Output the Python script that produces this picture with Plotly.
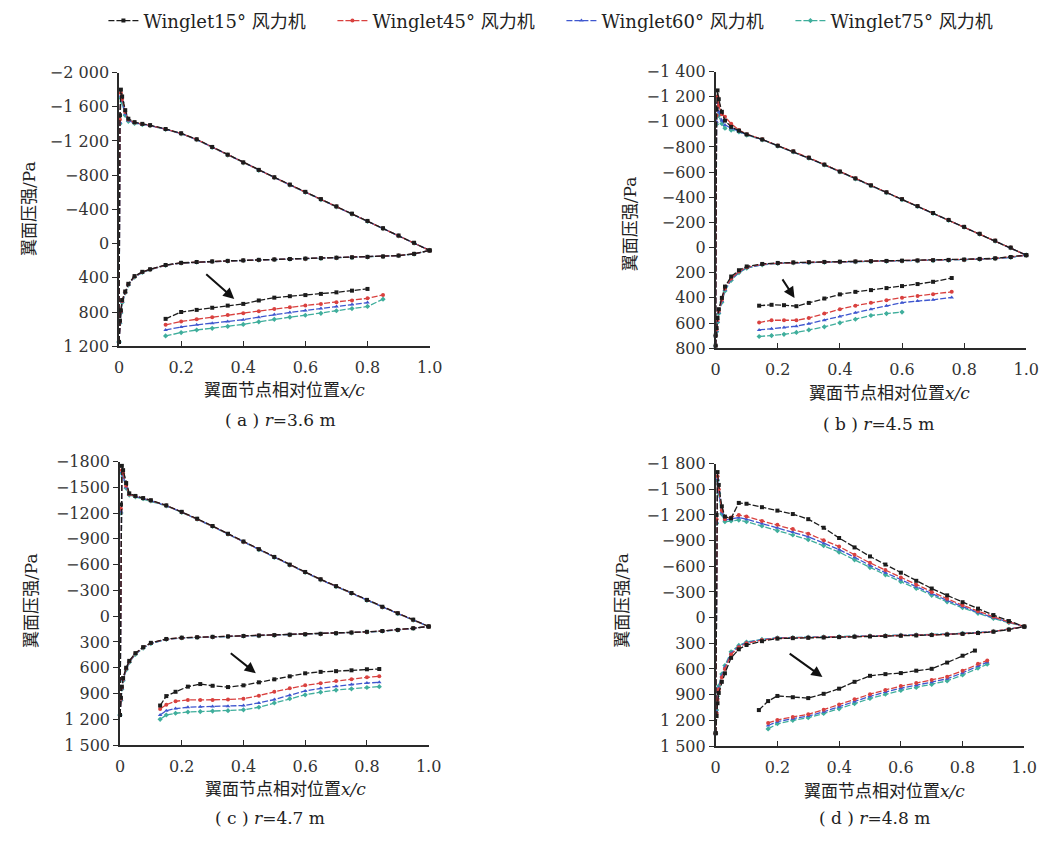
import plotly.graph_objects as go

# ---------------- data ----------------
SERIES = ["Winglet15° 风力机", "Winglet45° 风力机", "Winglet60° 风力机", "Winglet75° 风力机"]

X_MAIN = [0, 0.003, 0.006, 0.01, 0.02, 0.03, 0.05, 0.075, 0.1, 0.15, 0.2, 0.25, 0.3, 0.35,
          0.4, 0.45, 0.5, 0.55, 0.6, 0.65, 0.7, 0.75, 0.8, 0.85, 0.9, 0.95, 1.0]

# (a) r = 3.6 m
A_SUC_15 = [1150, -1500, -1800, -1720, -1560, -1460, -1420, -1400, -1385, -1340, -1290, -1220, -1130, -1040, -950, -862, -776, -690, -605, -520, -435, -350, -265, -180, -95, -10, 80]
A_SUC_45 = [1150, -1450, -1760, -1690, -1540, -1450, -1415, -1398, -1382, -1338, -1288, -1218, -1128, -1038, -948, -860, -774, -688, -603, -518, -433, -348, -263, -178, -93, -8, 80]
A_SUC_60 = [1150, -1420, -1730, -1670, -1520, -1440, -1410, -1395, -1380, -1336, -1286, -1216, -1126, -1036, -946, -858, -772, -686, -601, -516, -431, -346, -261, -176, -91, -6, 80]
A_SUC_75 = [1150, -1400, -1700, -1650, -1500, -1430, -1405, -1392, -1378, -1334, -1284, -1214, -1124, -1034, -944, -856, -770, -684, -599, -514, -429, -344, -259, -174, -89, -4, 80]
A_PRE_15 = [1150, 900, 780, 660, 560, 470, 380, 330, 300, 250, 225, 215, 208, 202, 196, 190, 185, 180, 175, 170, 165, 160, 155, 150, 140, 120, 80]
A_PRE_45 = [1150, 910, 790, 670, 565, 475, 385, 333, 302, 252, 226, 216, 209, 203, 197, 191, 186, 181, 176, 171, 166, 161, 156, 150, 140, 120, 80]
A_PRE_60 = [1150, 920, 800, 680, 570, 480, 388, 336, 304, 253, 227, 217, 210, 204, 198, 192, 187, 182, 177, 172, 167, 162, 157, 151, 141, 121, 80]
A_PRE_75 = [1150, 930, 810, 690, 575, 485, 392, 338, 306, 255, 228, 218, 211, 205, 199, 193, 188, 183, 178, 173, 168, 163, 158, 152, 142, 122, 80]
IX_A = [0.15, 0.2, 0.25, 0.3, 0.35, 0.4, 0.45, 0.5, 0.55, 0.6, 0.65, 0.7, 0.75, 0.8, 0.85]
A_IN_15 = [880, 800, 775, 750, 725, 705, 665, 632, 615, 602, 588, 570, 550, 530]
A_IN_45 = [950, 910, 885, 860, 835, 815, 790, 765, 745, 725, 705, 685, 665, 640, 600]
A_IN_60 = [1010, 975, 950, 930, 910, 890, 860, 830, 805, 782, 760, 735, 712, 690]
A_IN_75 = [1080, 1040, 1010, 990, 968, 945, 915, 885, 860, 838, 815, 785, 760, 735, 650]

# (b) r = 4.5 m
B_SUC_15 = [700, -1100, -1250, -1180, -1080, -1010, -960, -930, -900, -860, -810, -765, -715, -660, -605, -550, -495, -440, -385, -330, -275, -220, -165, -110, -55, 0, 60]
B_SUC_45 = [700, -1050, -1200, -1130, -1060, -1040, -985, -935, -902, -861, -811, -766, -716, -661, -606, -551, -496, -441, -386, -331, -276, -221, -166, -111, -56, 0, 60]
B_SUC_60 = [700, -1000, -1150, -1080, -1010, -975, -950, -926, -898, -859, -809, -764, -714, -659, -604, -549, -494, -439, -384, -329, -274, -219, -164, -109, -54, 0, 60]
B_SUC_75 = [700, -980, -1120, -1050, -985, -950, -935, -920, -895, -857, -807, -762, -712, -657, -602, -547, -492, -437, -382, -327, -272, -217, -162, -107, -52, 2, 60]
B_PRE_15 = [780, 640, 560, 490, 400, 310, 230, 180, 150, 130, 122, 118, 116, 114, 112, 110, 108, 106, 104, 102, 100, 98, 95, 90, 85, 75, 60]
B_PRE_45 = [780, 650, 575, 505, 415, 325, 245, 190, 156, 133, 124, 119, 117, 115, 113, 111, 109, 107, 105, 103, 101, 99, 96, 91, 86, 76, 60]
B_PRE_60 = [780, 660, 585, 515, 425, 335, 252, 195, 160, 135, 125, 120, 118, 116, 114, 112, 110, 108, 106, 104, 102, 100, 97, 92, 87, 77, 60]
B_PRE_75 = [780, 670, 595, 525, 435, 345, 260, 200, 164, 137, 126, 121, 119, 117, 115, 113, 111, 109, 107, 105, 103, 101, 98, 93, 88, 78, 60]
IX_B = [0.14, 0.18, 0.22, 0.26, 0.3, 0.35, 0.4, 0.45, 0.5, 0.55, 0.6, 0.65, 0.7, 0.76]
B_IN_15 = [462, 455, 458, 466, 440, 405, 372, 352, 338, 322, 306, 290, 272, 242]
B_IN_45 = [596, 578, 578, 578, 560, 525, 490, 462, 438, 418, 398, 385, 372, 352]
B_IN_60 = [655, 645, 635, 625, 605, 578, 548, 518, 490, 462, 438, 425, 415, 396]
B_IN_75 = [707, 700, 690, 675, 655, 630, 598, 570, 540, 525, 513]

# (c) r = 4.7 m
C_SUC_15 = [1150, -1300, -1750, -1700, -1550, -1430, -1400, -1375, -1350, -1290, -1215, -1135, -1050, -960, -870, -780, -690, -600, -515, -430, -350, -270, -190, -110, -35, 40, 120]
C_SUC_45 = [1150, -1250, -1700, -1660, -1520, -1420, -1395, -1372, -1348, -1288, -1213, -1133, -1048, -958, -868, -778, -688, -598, -513, -428, -348, -268, -188, -108, -33, 42, 120]
C_SUC_60 = [1150, -1220, -1680, -1640, -1505, -1415, -1392, -1370, -1345, -1286, -1211, -1131, -1046, -956, -866, -776, -686, -596, -511, -426, -346, -266, -186, -106, -31, 44, 120]
C_SUC_75 = [1150, -1200, -1660, -1620, -1490, -1410, -1390, -1368, -1342, -1284, -1209, -1129, -1044, -954, -864, -774, -684, -594, -509, -424, -344, -264, -184, -104, -29, 46, 120]
C_PRE_15 = [1150, 950, 820, 720, 600, 520, 430, 360, 310, 265, 250, 245, 240, 235, 230, 225, 220, 215, 210, 205, 198, 190, 182, 172, 160, 140, 120]
C_PRE_45 = [1150, 960, 830, 730, 608, 526, 435, 364, 313, 267, 251, 246, 241, 236, 231, 226, 221, 216, 211, 206, 199, 191, 183, 173, 161, 141, 120]
C_PRE_60 = [1150, 970, 840, 740, 616, 532, 440, 368, 316, 269, 252, 247, 242, 237, 232, 227, 222, 217, 212, 207, 200, 192, 184, 174, 162, 142, 120]
C_PRE_75 = [1150, 980, 850, 750, 624, 538, 445, 372, 319, 271, 253, 248, 243, 238, 233, 228, 223, 218, 213, 208, 201, 193, 185, 175, 163, 143, 120]
IX_C = [0.13, 0.15, 0.18, 0.22, 0.26, 0.3, 0.35, 0.4, 0.45, 0.5, 0.55, 0.6, 0.65, 0.7, 0.75, 0.8, 0.84]
C_IN_15 = [1040, 930, 880, 820, 790, 810, 825, 805, 770, 735, 700, 665, 648, 640, 630, 618, 615]
C_IN_45 = [1080, 1030, 990, 975, 975, 975, 970, 960, 925, 880, 840, 805, 780, 755, 735, 712, 700]
C_IN_60 = [1150, 1100, 1075, 1060, 1055, 1052, 1048, 1040, 1010, 970, 920, 870, 840, 815, 795, 778, 770]
C_IN_75 = [1200, 1150, 1130, 1115, 1110, 1105, 1100, 1090, 1060, 1010, 960, 915, 885, 860, 845, 830, 820]

# (d) r = 4.8 m
D_SUC_15 = [1350, -1200, -1700, -1550, -1300, -1180, -1160, -1340, -1330, -1290, -1250, -1210, -1150, -1050, -930, -820, -715, -620, -525, -430, -340, -260, -180, -105, -30, 40, 105]
D_SUC_45 = [1350, -1150, -1650, -1500, -1250, -1150, -1170, -1200, -1180, -1130, -1085, -1035, -980, -905, -830, -735, -640, -555, -470, -385, -300, -220, -145, -75, -10, 50, 105]
D_SUC_60 = [1350, -1120, -1620, -1470, -1230, -1140, -1150, -1170, -1150, -1100, -1050, -1000, -945, -870, -795, -705, -610, -525, -445, -360, -280, -200, -130, -60, 0, 55, 105]
D_SUC_75 = [1350, -1100, -1600, -1450, -1210, -1120, -1130, -1140, -1120, -1070, -1015, -965, -910, -840, -765, -675, -585, -500, -420, -340, -260, -185, -115, -50, 10, 60, 105]
D_PRE_15 = [1350, 1150, 1000, 880, 750, 650, 470, 370, 320, 275, 245, 240, 236, 232, 228, 224, 220, 216, 212, 208, 204, 198, 190, 180, 165, 140, 105]
D_PRE_45 = [1350, 1120, 960, 840, 700, 600, 430, 345, 300, 262, 240, 236, 233, 229, 225, 221, 217, 213, 209, 205, 201, 195, 188, 178, 163, 138, 105]
D_PRE_60 = [1350, 1100, 940, 820, 680, 580, 415, 335, 292, 258, 238, 234, 231, 227, 223, 219, 215, 211, 207, 203, 199, 193, 186, 176, 162, 137, 105]
D_PRE_75 = [1350, 1080, 920, 800, 660, 560, 400, 325, 285, 255, 236, 232, 229, 225, 221, 217, 213, 209, 205, 201, 197, 191, 184, 174, 161, 136, 105]
IX_D15 = [0.14, 0.17, 0.2, 0.25, 0.3, 0.35, 0.4, 0.45, 0.5, 0.55, 0.6, 0.65, 0.7, 0.75, 0.8, 0.84]
D_IN_15 = [1080, 975, 915, 930, 940, 890, 830, 750, 680, 660, 648, 620, 598, 525, 445, 385]
IX_D = [0.17, 0.2, 0.25, 0.3, 0.35, 0.4, 0.45, 0.5, 0.55, 0.6, 0.65, 0.7, 0.75, 0.8, 0.85, 0.88]
D_IN_45 = [1230, 1195, 1160, 1130, 1075, 1015, 955, 895, 845, 800, 765, 730, 690, 620, 540, 500]
D_IN_60 = [1260, 1215, 1180, 1150, 1100, 1040, 980, 920, 870, 825, 790, 755, 715, 645, 565, 520]
D_IN_75 = [1300, 1240, 1200, 1170, 1120, 1065, 1005, 945, 895, 850, 815, 780, 740, 670, 590, 545]

# axis ticks
X_TICKS = [0, 0.2, 0.4, 0.6, 0.8, 1.0]
X_TICKTEXT = ["0", "0.2", "0.4", "0.6", "0.8", "1.0"]
A_YTICKS = [-2000, -1600, -1200, -800, -400, 0, 400, 800, 1200]
A_YTEXT = ["−2 000", "−1 600", "−1 200", "−800", "−400", "0", "400", "800", "1 200"]
B_YTICKS = [-1400, -1200, -1000, -800, -600, -400, -200, 0, 200, 400, 600, 800]
B_YTEXT = ["−1 400", "−1 200", "−1 000", "−800", "−600", "−400", "−200", "0", "200", "400", "600", "800"]
C_YTICKS = [-1800, -1500, -1200, -900, -600, -300, 0, 300, 600, 900, 1200, 1500]
C_YTEXT = ["−1800", "−1500", "−1200", "−900", "−600", "−300", "0", "300", "600", "900", "1 200", "1 500"]
D_YTICKS = [-1800, -1500, -1200, -900, -600, -300, 0, 300, 600, 900, 1200, 1500]
D_YTEXT = ["−1 800", "−1 500", "−1 200", "−900", "−600", "−300", "0", "300", "600", "900", "1 200", "1 500"]

# arrows (tail x, tail y, head x, head y) in data units
ARROW_A = [0.276, 343, 0.371, 648]
ARROW_B = [0.212, 241, 0.254, 400]
ARROW_C = [0.354, 418, 0.44, 663]
ARROW_D = [0.235, 408, 0.346, 694]

CAPTIONS = ["( a ) <i>r</i>=3.6 m", "( b ) <i>r</i>=4.5 m", "( c ) <i>r</i>=4.7 m", "( d ) <i>r</i>=4.8 m"]
XTITLE = "翼面节点相对位置<i>x/c</i>"
YTITLE = "翼面压强/Pa"

# ---------------- styling ----------------
COLORS = ["#1c1c1c", "#d9413f", "#3f57cf", "#3fae9c"]
SYMBOLS = ["square", "circle", "triangle-up", "diamond"]
FONT = "DejaVu Serif, Noto Sans CJK SC"
AX = "#2a2a2a"

panels = [
    dict(suc=[A_SUC_15, A_SUC_45, A_SUC_60, A_SUC_75], pre=[A_PRE_15, A_PRE_45, A_PRE_60, A_PRE_75],
         ix=[IX_A, IX_A, IX_A, IX_A], ins=[A_IN_15, A_IN_45, A_IN_60, A_IN_75],
         yr=[1200, -2000], yt=A_YTICKS, ytt=A_YTEXT, arrow=ARROW_A,
         xd=[116 / 1054, 432 / 1054], yd=[1 - 345 / 844, 1 - 65 / 844]),
    dict(suc=[B_SUC_15, B_SUC_45, B_SUC_60, B_SUC_75], pre=[B_PRE_15, B_PRE_45, B_PRE_60, B_PRE_75],
         ix=[IX_B, IX_B, IX_B, IX_B], ins=[B_IN_15, B_IN_45, B_IN_60, B_IN_75],
         yr=[800, -1400], yt=B_YTICKS, ytt=B_YTEXT, arrow=ARROW_B,
         xd=[723 / 1054, 1039 / 1054], yd=[1 - 347 / 844, 1 - 64 / 844]),
    dict(suc=[C_SUC_15, C_SUC_45, C_SUC_60, C_SUC_75], pre=[C_PRE_15, C_PRE_45, C_PRE_60, C_PRE_75],
         ix=[IX_C, IX_C, IX_C, IX_C], ins=[C_IN_15, C_IN_45, C_IN_60, C_IN_75],
         yr=[1500, -1800], yt=C_YTICKS, ytt=C_YTEXT, arrow=ARROW_C,
         xd=[117 / 1054, 431 / 1054], yd=[1 - 753 / 844, 1 - 463 / 844]),
    dict(suc=[D_SUC_15, D_SUC_45, D_SUC_60, D_SUC_75], pre=[D_PRE_15, D_PRE_45, D_PRE_60, D_PRE_75],
         ix=[IX_D15, IX_D, IX_D, IX_D], ins=[D_IN_15, D_IN_45, D_IN_60, D_IN_75],
         yr=[1500, -1800], yt=D_YTICKS, ytt=D_YTEXT, arrow=ARROW_D,
         xd=[723 / 1054, 1037 / 1054], yd=[1 - 754 / 844, 1 - 465 / 844]),
]

fig = go.Figure()
layout = {}
annotations = []

for p_i, p in enumerate(panels):
    n = "" if p_i == 0 else str(p_i + 1)
    xa, ya = "x" + n, "y" + n
    for s in [3, 2, 1, 0]:
        style = dict(mode="lines+markers",
                     line=dict(color=COLORS[s], width=1.3, dash="6px,2px"),
                     marker=dict(color=COLORS[s], size=4, symbol=SYMBOLS[s]),
                     xaxis=xa, yaxis=ya, cliponaxis=False)
        fig.add_trace(go.Scatter(x=X_MAIN, y=p["suc"][s], name=SERIES[s], legendgroup=SERIES[s],
                                 showlegend=(p_i == 0), legendrank=s + 1, **style))
        fig.add_trace(go.Scatter(x=X_MAIN, y=p["pre"][s], name=SERIES[s], legendgroup=SERIES[s],
                                 showlegend=False, **style))
        ins = p["ins"][s]
        fig.add_trace(go.Scatter(x=p["ix"][s][:len(ins)], y=ins, name=SERIES[s], legendgroup=SERIES[s],
                                 showlegend=False, **style))
    layout["xaxis" + n] = dict(domain=p["xd"], anchor=ya, range=[0, 1.0], showline=True, linecolor=AX,
                               linewidth=1.5, ticks="inside", ticklen=5, tickcolor=AX, tickwidth=1.3,
                               tickvals=X_TICKS, ticktext=X_TICKTEXT, showgrid=False, zeroline=False,
                               ticklabelstandoff=6,
                               tickfont=dict(family=FONT, size=16, color="#333"))
    layout["yaxis" + n] = dict(domain=p["yd"], anchor=xa, range=p["yr"], showline=True, linecolor=AX,
                               linewidth=1.5, ticks="outside", ticklen=5, tickcolor=AX, tickwidth=1.3,
                               tickvals=p["yt"], ticktext=p["ytt"], showgrid=False, zeroline=False,
                               tickfont=dict(family=FONT, size=16, color="#333"))
    a = p["arrow"]
    annotations.append(dict(x=a[2], y=a[3], ax=a[0], ay=a[1], xref=xa, yref=ya, axref=xa, ayref=ya,
                            showarrow=True, arrowhead=2, arrowsize=1.1, arrowwidth=2, arrowcolor="#111",
                            text=""))

# titles & captions (pixel centres)
XT_POS = [(284, 390), (900, 393), (285, 798), (895, 800)]
CAP_POS = [(280, 420), (889, 425), (270, 828), (885, 828)]
YT_POS = [(25, 204), (636, 220), (27, 605), (628, 605)]
for i in range(4):
    common = dict(xref="paper", yref="paper", showarrow=False, xanchor="center", yanchor="middle")
    annotations.append(dict(x=XT_POS[i][0] / 1054, y=1 - XT_POS[i][1] / 844, text=XTITLE,
                            font=dict(family=FONT, size=17, color="#222"), **common))
    annotations.append(dict(x=CAP_POS[i][0] / 1054, y=1 - CAP_POS[i][1] / 844, text=CAPTIONS[i],
                            font=dict(family=FONT, size=17, color="#222"), **common))
    annotations.append(dict(x=YT_POS[i][0] / 1054, y=1 - YT_POS[i][1] / 844, text=YTITLE, textangle=-90,
                            font=dict(family=FONT, size=17, color="#222"), **common))

fig.update_layout(
    width=1054, height=844, margin=dict(l=0, r=0, t=0, b=0),
    paper_bgcolor="white", plot_bgcolor="white",
    showlegend=True,
    legend=dict(orientation="h", x=0.095, y=1.008, xanchor="left", yanchor="top",
                font=dict(family=FONT, size=18, color="#222"), entrywidth=184, itemwidth=30,
                bgcolor="rgba(0,0,0,0)", traceorder="normal"),
    annotations=annotations,
    **layout,
)

fig.write_html("out.html")
